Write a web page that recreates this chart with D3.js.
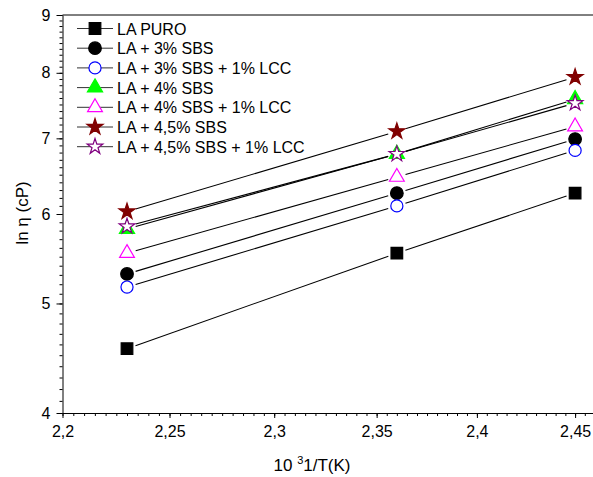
<!DOCTYPE html>
<html>
<head>
<meta charset="utf-8">
<script src="https://cdn.jsdelivr.net/npm/d3@7"></script>
<style>
  body { margin: 0; background: #fff; }
  svg { font-family: "Liberation Sans", Arial, sans-serif; }
  .axis path, .axis line { stroke: #000; }
  .axis text { font-size: 16px; fill: #000; }
</style>
</head>
<body>
<script>
// Datos (eje X: 10^3/T, eje Y: ln η)
var temps = [2.23, 2.36, 2.45];
var laPuro      = [4.56, 5.54, 6.26];
var la3         = [5.31, 6.26, 6.99];
var la3lcc      = [5.17, 6.10, 6.83];
var la4         = [5.82, 6.78, 7.58];
var la4lcc      = [5.54, 6.47, 7.17];
var la45        = [6.03, 7.10, 7.93];
var la45lcc     = [5.85, 6.78, 7.52];
var nombres = ["LA PURO", "LA + 3% SBS", "LA + 3% SBS + 1% LCC", "LA + 4% SBS",
               "LA + 4% SBS + 1% LCC", "LA + 4,5% SBS", "LA + 4,5% SBS + 1% LCC"];
var xTicks = [2.2, 2.25, 2.3, 2.35, 2.4, 2.45];
var yTicks = [4, 5, 6, 7, 8, 9];

// Estilo de cada serie
var estilos = [
  {valores: laPuro,  simbolo: d3.symbolSquare,   size: 135, fill: "#000",    stroke: "#000"},
  {valores: la3,     simbolo: d3.symbolCircle,   size: 125, fill: "#000",    stroke: "#000"},
  {valores: la3lcc,  simbolo: d3.symbolCircle,   size: 115, fill: "#fff",    stroke: "#0000ff"},
  {valores: la4,     simbolo: d3.symbolTriangle, size: 100, fill: "#00ff00", stroke: "#00ff00"},
  {valores: la4lcc,  simbolo: d3.symbolTriangle, size: 95,  fill: "#fff",    stroke: "#ff00ff"},
  {valores: la45,    simbolo: d3.symbolStar,     size: 80,  fill: "#800000", stroke: "#800000"},
  {valores: la45lcc, simbolo: d3.symbolStar,     size: 75,  fill: "#fff",    stroke: "#800080"}
];

var margin = {top: 15, left: 62.5, bottom: 64},
    W = 593, H = 477;

var svg = d3.select("body").append("svg")
    .attr("width", W)
    .attr("height", H);

// Ambas escalas son logarítmicas
var x = d3.scaleLog().domain([2.2, 2.46]).range([margin.left, 594.5]);
var y = d3.scaleLog().domain([4, 9]).range([H - margin.bottom, margin.top]);

var fmt = function(d) { return String(d).replace(".", ","); };

// Ticks menores
var xMinor = d3.range(2.2, 2.4601, 0.005).map(function(d) { return +d.toFixed(3); });
var yMinor = d3.range(4, 9.001, 0.1).map(function(d) { return +d.toFixed(1); });

svg.append("g")
    .attr("class", "axis")
    .attr("transform", "translate(0," + (H - margin.bottom) + ")")
    .call(d3.axisBottom(x).tickValues(xMinor).tickSize(3).tickFormat(""))
    .call(function(g) { g.select(".domain").remove(); });

svg.append("g")
    .attr("class", "axis")
    .attr("transform", "translate(0," + (H - margin.bottom) + ")")
    .call(d3.axisBottom(x).tickValues(xTicks).tickSize(5).tickSizeOuter(0).tickPadding(8).tickFormat(fmt));

svg.append("g")
    .attr("class", "axis")
    .attr("transform", "translate(" + margin.left + ",0)")
    .call(d3.axisLeft(y).tickValues(yMinor).tickSize(3).tickFormat(""))
    .call(function(g) { g.select(".domain").remove(); });

svg.append("g")
    .attr("class", "axis")
    .attr("transform", "translate(" + margin.left + ",0)")
    .call(d3.axisLeft(y).tickValues(yTicks).tickSize(6).tickSizeOuter(0).tickPadding(6).tickFormat(d3.format("d")));

// Línea superior del marco
svg.append("line")
    .attr("x1", margin.left).attr("x2", W)
    .attr("y1", margin.top).attr("y2", margin.top)
    .attr("stroke", "#000");

// Títulos de los ejes
var xt = svg.append("text")
    .attr("x", 312).attr("y", 471)
    .attr("text-anchor", "middle")
    .style("font-size", "17px");
xt.append("tspan").text("10 ");
xt.append("tspan").attr("dy", -7).style("font-size", "11px").text("3");
xt.append("tspan").attr("dy", 7).text("1/T(K)");

svg.append("text")
    .attr("transform", "translate(28," + 213 + ") rotate(-90)")
    .attr("text-anchor", "middle")
    .style("font-size", "17px")
    .text("ln \u03b7 (cP)");

// Segmentos con hueco alrededor de los símbolos
var gap = 9;
estilos.forEach(function(s) {
  for (var i = 0; i < temps.length - 1; i++) {
    var x1 = x(temps[i]), y1 = y(s.valores[i]),
        x2 = x(temps[i + 1]), y2 = y(s.valores[i + 1]);
    var len = Math.hypot(x2 - x1, y2 - y1),
        ux = (x2 - x1) / len, uy = (y2 - y1) / len;
    svg.append("line")
        .attr("x1", x1 + ux * gap).attr("y1", y1 + uy * gap)
        .attr("x2", x2 - ux * gap).attr("y2", y2 - uy * gap)
        .attr("stroke", "#000")
        .attr("stroke-width", 1.1);
  }
});

// Símbolos
estilos.forEach(function(s) {
  svg.append("g").selectAll("path")
      .data(s.valores)
      .join("path")
      .attr("transform", function(d, i) { return "translate(" + x(temps[i]) + "," + y(d) + ")"; })
      .attr("d", d3.symbol().type(s.simbolo).size(s.size))
      .attr("fill", s.fill)
      .attr("stroke", s.stroke)
      .attr("stroke-width", 1.2);
});

// Leyenda
var leyenda = svg.append("g");
nombres.forEach(function(n, i) {
  var yy = 28.5 + i * 19.7, s = estilos[i];
  leyenda.append("line")
      .attr("x1", 77).attr("x2", 113)
      .attr("y1", yy).attr("y2", yy)
      .attr("stroke", "#333");
  leyenda.append("path")
      .attr("transform", "translate(95," + yy + ")")
      .attr("d", d3.symbol().type(s.simbolo).size(s.size))
      .attr("fill", s.fill)
      .attr("stroke", s.stroke)
      .attr("stroke-width", 1.2);
  leyenda.append("text")
      .attr("x", 117).attr("y", yy + 6)
      .style("font-size", "16px")
      .text(n);
});
</script>
</body>
</html>
